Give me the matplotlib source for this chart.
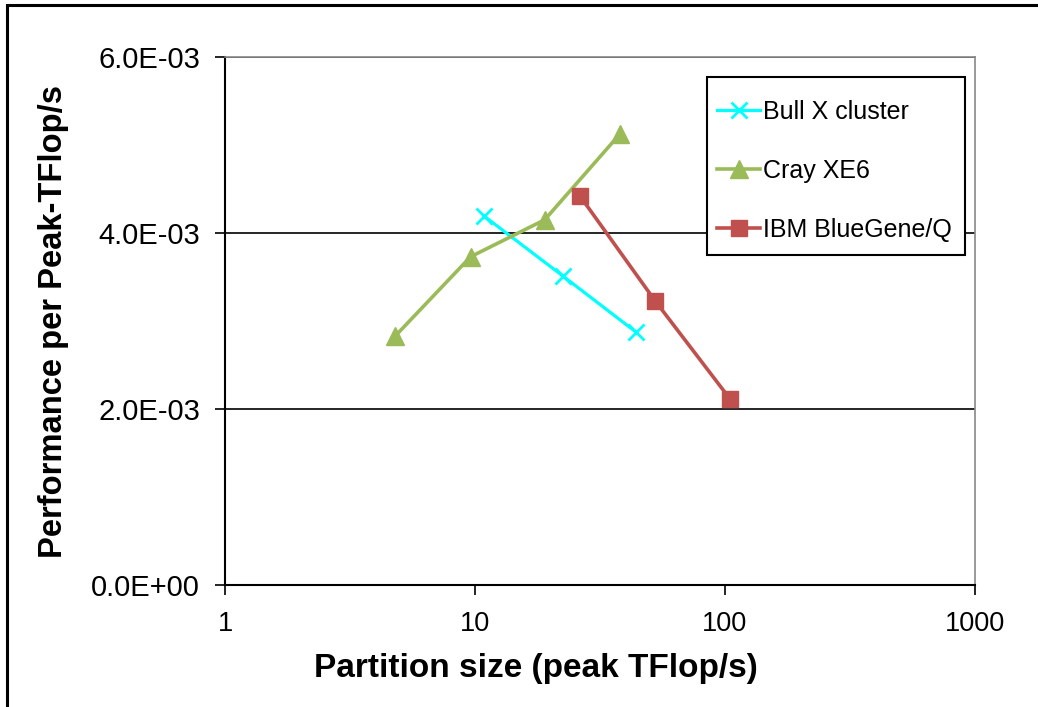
import matplotlib
matplotlib.use("Agg")
import matplotlib.pyplot as plt
from matplotlib.patches import Rectangle
from matplotlib.ticker import FuncFormatter, FixedLocator, NullLocator

plt.rcParams['font.family'] = ['Liberation Sans', 'DejaVu Sans']

bull_x = [10.9, 22.5, 44.0]
bull_y = [4.19e-3, 3.51e-3, 2.875e-3]
cray_x = [4.8, 9.6, 19.0, 38.0]
cray_y = [2.83e-3, 3.73e-3, 4.15e-3, 5.125e-3]
ibm_x = [26.3, 52.5, 105.0]
ibm_y = [4.42e-3, 3.23e-3, 2.11e-3]

series_labels = ["Bull X cluster", "Cray XE6", "IBM BlueGene/Q"]
x_ticks = [1, 10, 100, 1000]
y_ticks = [0.0, 2e-3, 4e-3, 6e-3]
x_label = "Partition size (peak TFlop/s)"
y_label = "Performance per Peak-TFlop/s"

W, H = 1038, 707
fig = plt.figure(figsize=(W / 100, H / 100), dpi=100)
L, R, T, B = 225, 975, 57, 585
ax = fig.add_axes([L / W, 1 - B / H, (R - L) / W, (B - T) / H])

ax.plot(bull_x, bull_y, color='#00FFFF', lw=2.3, marker='x', ms=11, mew=2.0,
        label=series_labels[0], zorder=3)
ax.plot(cray_x, cray_y, color='#9BBB59', lw=2.6, marker='^', ms=12.5,
        label=series_labels[1], zorder=3)
ax.plot(ibm_x, ibm_y, color='#C0504D', lw=2.6, marker='s', ms=12,
        label=series_labels[2], zorder=4)

ax.set_xscale('log')
ax.set_xlim(1, 1000)
ax.set_ylim(0, 6e-3)
ax.xaxis.set_major_locator(FixedLocator(x_ticks))
ax.xaxis.set_minor_locator(NullLocator())
ax.xaxis.set_major_formatter(FuncFormatter(lambda v, p: f"{v:g}"))
ax.yaxis.set_major_locator(FixedLocator(y_ticks))
ax.yaxis.set_major_formatter(FuncFormatter(lambda v, p: f"{v:.1E}"))

ax.grid(axis='y', color='black', lw=1.2, zorder=1)
ax.set_axisbelow(True)
for s in ['top', 'right']:
    ax.spines[s].set_color('#888888')
    ax.spines[s].set_linewidth(1.2)
for s in ['left', 'bottom']:
    ax.spines[s].set_color('black')
    ax.spines[s].set_linewidth(1.5)

ax.tick_params(axis='both', direction='out', length=7, width=1.2, labelsize=19.5, colors='black')
ax.tick_params(axis='y', labelsize=21, pad=11)
ax.tick_params(axis='x', pad=12)

ax.set_xlabel(x_label, fontsize=24, fontweight='bold')
ax.xaxis.set_label_coords((536 - L) / (R - L), -(668 - B) / (B - T), transform=ax.transAxes)
ax.xaxis.label.set_va('center')
ax.set_ylabel(y_label, fontsize=23.6, fontweight='bold')
ax.yaxis.set_label_coords(-(L - 54) / (R - L), 0.5, transform=ax.transAxes)
ax.yaxis.label.set_va('center')

# legend box
lx0, ly0, lx1, ly1 = 707, 77, 965, 255
fig.patches.append(Rectangle((lx0 / W, 1 - ly1 / H), (lx1 - lx0) / W, (ly1 - ly0) / H,
                             transform=fig.transFigure, facecolor='white',
                             edgecolor='black', lw=1.5, zorder=5))
leg = ax.legend(loc='upper left', bbox_to_anchor=(717 / W, 1 - 100 / H),
                bbox_transform=fig.transFigure, fontsize=18, frameon=False,
                labelspacing=1.4, handlelength=1.72, handletextpad=0.12,
                borderpad=0, borderaxespad=0)
leg.set_zorder(6)
leg.remove()
fig.legends.append(leg)
leg.set_figure(fig)

fig.patches.append(Rectangle((7 / W, -0.05), 1.2, 1 - 5 / H + 0.05, transform=fig.transFigure,
                             fill=False, edgecolor='black', lw=2.2))

fig.savefig("out.png", dpi=100, facecolor='white')
